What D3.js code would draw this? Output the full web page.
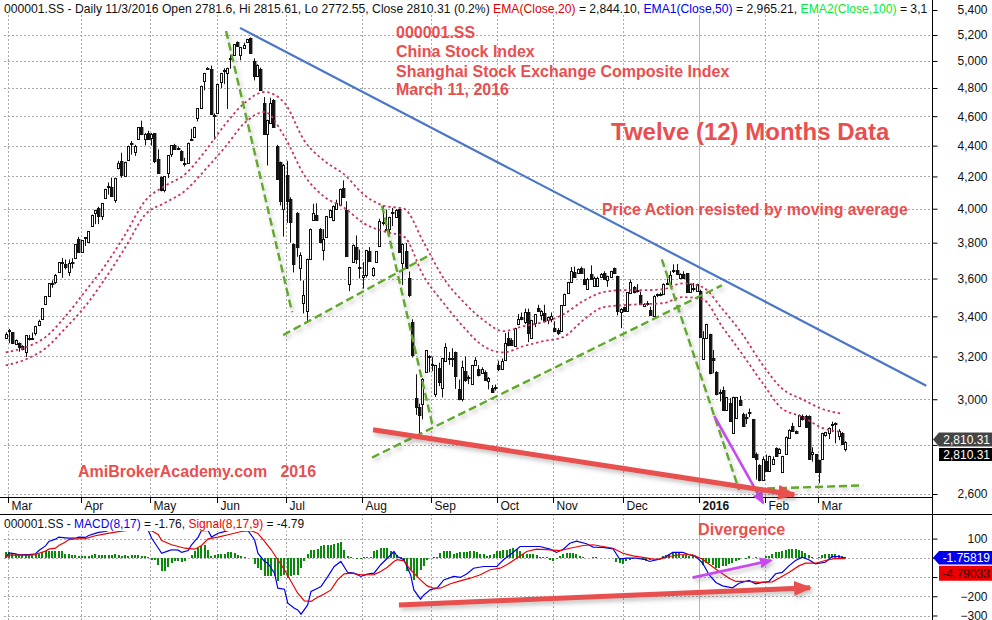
<!DOCTYPE html>
<html><head><meta charset="utf-8">
<style>html,body{margin:0;padding:0;background:#fff}svg{display:block}text{font-family:"Liberation Sans",Arial,sans-serif}</style>
<script src="https://cdn.jsdelivr.net/npm/d3@7"></script></head><body>
<svg id="c" width="992" height="620"></svg>
<script>
// ---------- price data (OHLC, one value per trading day) ----------
const opens=[3293,3330,3319,3263,3265,3252,3223,3288,3290,3314,
3355,3387,3464,3508,3577,3582,3638,3690,3680,3638,
3692,3712,3823,3747,3830,3804,3898,3975,4006,3957,
4066,4137,4132,4052,4252,4298,4200,4305,4415,4357,
4442,4524,4442,4487,4450,4482,4312,4195,4116,4222,
4344,4405,4387,4367,4285,4285,4447,4460,4584,4657,
4848,4945,4941,4607,4625,4843,4932,4910,5020,5048,
5145,5044,5097,5145,5177,4997,4888,4942,4693,4475,
4553,4712,4400,4290,4000,4210,4060,3795,3975,3655,
3470,3428,3708,3930,3965,3880,3757,3830,3953,3935,
3998,4024,4125,3990,3570,3690,3775,3664,3610,3620,
3750,3618,3690,3783,3922,3882,3880,3980,3950,3998,
3685,3755,3605,3372,3005,2967,2978,3125,3204,3157,
3022,3145,3050,3178,3193,3192,3222,3047,3000,3130,
3102,3072,3158,3138,3120,3128,3083,3052,3055,3157,
3140,3185,3290,3283,3253,3360,3397,3372,3420,3292,
3368,3445,3408,3417,3380,3385,3340,3332,3325,3457,
3522,3580,3635,3630,3655,3595,3545,3625,3560,3560,
3610,3630,3593,3610,3655,3612,3425,3447,3430,3520,
3555,3538,3510,3455,3470,3433,3400,3510,3518,3518,
3570,3570,3648,3645,3605,3623,3628,3530,3550,3535,
3535,3190,3290,3310,3193,3128,3035,3043,2953,2985,
2850,2918,2995,2935,2920,2942,2910,2760,2715,2657,
2733,2692,2720,2785,2766,2687,2762,2829,2880,2858,
2882,2926,2925,2925,2762,2760,2735,2740,2844,2850,
2884,2895,2838,2850,2781.6];
const highs=[3319,3336,3319,3283,3268,3255,3304,3306,3318,3352,
3383,3443,3504,3573,3590,3625,3691,3714,3705,3705,
3712,3790,3834,3813,3832,3865,3965,3994,4012,4035,
4122,4162,4192,4192,4300,4353,4295,4400,4431,4405,
4524,4569,4485,4500,4485,4484,4375,4200,4200,4335,
4402,4412,4395,4370,4320,4420,4513,4527,4657,4817,
4911,4953,4965,4620,4832,4911,4945,4950,5048,5130,
5150,5105,5140,5170,5180,5020,4975,4950,4735,4575,
4730,4720,4405,4295,4280,4300,4070,3797,3980,3745,
3590,3710,3882,4030,4033,3885,3878,3957,3996,4020,
4055,4124,4175,4045,3664,3790,3842,3760,3690,3759,
3775,3662,3752,3940,4018,3995,3952,4005,3997,4000,
3797,3798,3638,3385,3115,2980,3097,3232,3206,3197,
3160,3170,3194,3265,3222,3240,3224,3090,3180,3200,
3110,3160,3197,3158,3148,3134,3102,3065,3067,3180,
3190,3315,3320,3290,3342,3412,3420,3440,3440,3382,
3412,3460,3432,3460,3398,3420,3375,3340,3459,3519,
3582,3663,3665,3655,3665,3655,3603,3672,3610,3610,
3630,3640,3615,3642,3660,3615,3442,3450,3527,3595,
3560,3570,3530,3468,3480,3450,3510,3520,3525,3574,
3600,3640,3678,3680,3628,3640,3630,3572,3575,3572,
3540,3325,3362,3312,3232,3130,3045,3058,3010,3005,
3012,3010,3015,2940,2935,2958,2912,2768,2720,2752,
2760,2755,2752,2790,2786,2754,2836,2867,2895,2862,
2932,2932,2930,2928,2790,2762,2738,2852,2856,2875,
2900,2897,2868,2855,2815.61];
const lows=[3293,3265,3262,3258,3223,3230,3198,3278,3284,3303,
3350,3385,3458,3505,3550,3570,3636,3604,3650,3613,
3655,3710,3745,3745,3781,3800,3896,3908,3908,3933,
4060,4086,4075,4036,4245,4191,4198,4303,4341,4332,
4440,4470,4402,4440,4400,4285,4220,4106,4100,4190,
4325,4378,4370,4297,4263,4283,4440,4458,4564,4655,
4783,4935,4612,4440,4615,4800,4828,4650,4942,5040,
5110,5005,5090,5140,5060,4855,4880,4785,4478,4270,
4550,4520,4180,4020,3835,3915,3800,3633,3720,3588,
3415,3375,3706,3928,3930,3800,3700,3828,3951,3925,
3996,4022,4068,3723,3532,3688,3680,3600,3545,3606,
3693,3610,3688,3775,3900,3874,3838,3897,3948,3743,
3565,3656,3500,3195,2930,2845,2910,3123,3125,3130,
3010,3060,3008,3176,3160,3150,3047,2995,2990,3080,
3070,3070,3156,3105,3118,3085,3045,3030,3040,3130,
3135,3183,3250,3253,3250,3355,3380,3360,3270,3290,
3345,3425,3380,3372,3360,3370,3320,3305,3323,3455,
3520,3578,3605,3628,3628,3565,3543,3593,3555,3555,
3605,3595,3555,3608,3628,3405,3340,3425,3428,3518,
3520,3525,3460,3448,3455,3405,3398,3500,3505,3516,
3565,3568,3630,3620,3600,3600,3525,3526,3530,3530,
3290,3188,3288,3115,3120,3018,2990,2950,2950,2900,
2848,2915,2970,2878,2890,2920,2748,2657,2650,2655,
2690,2688,2718,2750,2764,2685,2760,2827,2858,2846,
2880,2905,2876,2738,2730,2685,2643,2738,2835,2825,
2855,2807,2820,2800,2772.55];
const closes=[3311,3333,3265,3280,3248,3237,3304,3290,3292,3350,
3375,3443,3504,3573,3572,3617,3691,3692,3661,3686,
3688,3790,3747,3813,3826,3865,3965,3994,3957,4035,
4122,4133,4080,4192,4285,4207,4292,4400,4411,4396,
4524,4476,4480,4442,4478,4297,4222,4112,4200,4335,
4402,4380,4383,4308,4280,4420,4440,4527,4657,4817,
4911,4938,4615,4602,4832,4911,4928,4950,5013,5130,
5115,5105,5122,5170,5062,4890,4973,4785,4480,4575,
4693,4524,4186,4050,4270,4050,3920,3680,3773,3730,
3510,3708,3880,3977,3932,3803,3822,3955,3994,4018,
4035,4122,4070,3725,3662,3788,3705,3658,3620,3757,
3695,3660,3750,3925,3918,3876,3950,3975,3995,3745,
3795,3658,3510,3208,2963,2930,3095,3230,3200,3166,
3158,3080,3192,3245,3188,3188,3106,3000,3152,3088,
3098,3158,3185,3110,3140,3088,3100,3034,3050,3138,
3180,3265,3255,3255,3340,3388,3385,3420,3318,3380,
3410,3430,3430,3375,3395,3400,3325,3315,3457,3517,
3580,3640,3608,3650,3630,3570,3600,3595,3605,3605,
3625,3600,3613,3640,3630,3426,3440,3430,3525,3580,
3525,3532,3462,3465,3462,3408,3508,3518,3512,3572,
3578,3620,3646,3625,3625,3605,3530,3570,3545,3570,
3295,3290,3360,3120,3185,3022,3028,2953,3008,2905,
3010,3008,2975,2880,2916,2938,2750,2740,2657,2740,
2692,2753,2742,2752,2784,2752,2834,2865,2860,2853,
2930,2913,2878,2740,2770,2687,2687,2850,2855,2873,
2890,2892,2859,2803,2810.31];

// moving averages, read every sixth session
const emaIdx=[0,6,12,18,24,30,36,42,48,54,60,66,72,78,84,90,96,102,108,114,120,126,132,138,144,150,156,162,168,174,180,186,192,198,204,210,216,222,228,234,240,246,252];
const ema50=[3220,3245,3295,3400,3532,3672,3847,4048,4140,4213,4360,4540,4693,4771,4693,4433,4300,4213,4085,4018,4000,3800,3600,3474,3380,3325,3350,3370,3410,3479,3526,3537,3537,3542,3574,3553,3437,3310,3162,3048,3000,2957,2935];
const ema20=[3157,3186,3240,3340,3453,3600,3772,3964,4036,4109,4240,4387,4553,4629,4460,4207,4073,4006,3912,3865,3835,3611,3468,3345,3250,3220,3250,3275,3295,3380,3447,3458,3463,3468,3500,3489,3345,3210,3076,2957,2922,2873,2855];

// MACD panel
const macdIdx=[0,1,3,4,6,7,9,10,12,13,15,16,18,19,21,22,24,25,27,28,30,31,33,36,37,39,43,44,46,47,49,50,52,53,55,56,58,59,61,62,64,65,67,70,73,75,76,78,79,81,82,84,85,87,88,89,91,92,94,95,97,99,101,103,105,107,109,111,113,115,117,118,120,122,123,125,126,128,130,132,135,137,139,141,144,146,148,150,152,155,158,161,164,166,168,170,172,175,177,180,183,185,187,190,193,194,197,199,201,204,206,208,210,212,214,216,219,221,224,226,228,230,232,234,236,238,240,242,244,247,249,251,253];
const macdVal=[3,26,21,16,17,17,21,38,62,85,97,108,104,102,102,108,106,116,127,132,137,142,146,149,155,155,141,102,50,24,36,42,40,28,38,68,108,142,142,108,128,132,141,155,141,94,24,-19,-28,-80,-158,-163,-236,-262,-271,-293,-245,-175,-158,-149,-99,-45,-19,-75,-80,-97,-85,-80,-36,-2,33,7,-10,-88,-167,-215,-193,-165,-158,-115,-97,-102,-83,-54,-45,-45,-45,-10,16,59,59,59,45,28,45,76,87,73,56,54,47,-7,-2,-2,-10,-19,-7,7,28,28,16,7,-28,-89,-128,-146,-156,-132,-118,-135,-128,-123,-83,-76,-42,-14,3,-10,-31,-23,7,7,-1.76];
const signalIdx=[0,1,4,7,9,10,12,13,15,16,18,19,21,24,27,30,33,36,40,43,44,46,47,50,54,57,59,61,64,67,71,74,76,78,80,82,84,86,88,90,92,94,96,98,100,102,104,107,111,113,115,117,118,120,122,125,127,129,131,134,137,140,143,146,149,151,154,157,160,163,167,170,174,177,180,183,186,189,192,195,197,200,203,207,210,212,215,218,220,224,227,231,233,236,239,241,244,247,250,253];
const signalVal=[3,14,14,14,17,24,35,45,50,64,82,95,99,100,115,125,134,141,148,148,141,120,90,68,50,45,64,99,108,120,137,141,127,85,42,-10,-62,-123,-184,-224,-227,-205,-188,-167,-115,-83,-80,-88,-87,-71,-49,-19,-10,-16,-62,-115,-146,-158,-158,-135,-120,-106,-88,-62,-54,-36,-2,33,45,43,38,50,64,68,59,50,24,10,2,-7,-7,7,16,16,-7,-33,-71,-106,-123,-123,-128,-125,-106,-76,-42,-28,-28,-14,-3,-4.79];
const histVal=[30,28,24,21,16,17,14,16,14,17,21,28,35,36,36,38,38,33,21,21,17,16,12,7,10,10,14,21,17,17,17,14,14,21,14,10,14,12,17,14,16,10,7,3,-10,-10,-36,-68,-68,-50,-28,-16,-19,-21,-19,-2,17,35,50,59,68,43,10,16,19,19,19,30,28,24,17,10,3,-3,-3,-31,-54,-62,-97,-97,-97,-97,-123,-97,-88,-106,-97,-88,-88,-54,-16,21,42,42,45,59,68,68,
68,71,76,80,42,10,3,-3,-7,-5,3,3,3,38,42,49,50,52,38,28,14,3,-19,-66,-62,-115,-97,-62,-45,-10,-3,3,3,24,33,36,33,21,26,28,28,31,36,33,28,21,19,10,16,21,35,38,42,42,47,49,45,35,21,21,21,21,16,3,3,3,-10,-16,-7,7,21,26,26,26,21,7,3,1,-1,2,2,-2,-2,-2,-1,-3,-24,-28,-33,-19,-10,-7,-3,-3,-10,-17,-10,-3,-3,-2,
7,14,21,28,28,24,17,14,10,7,3,-3,-36,-28,-28,-36,-54,-54,-45,-42,-31,-28,-17,-10,1,-7,7,-1,3,-1,1,7,10,21,28,28,33,42,47,47,45,42,33,24,14,3,1,3,16,21,21,21,21,17,7,3];

// axes
const priceTicks=[5400,5200,5000,4800,4600,4400,4200,4000,3800,3600,3400,3200,3000,2800,2600];
const macdTicks=[100,0,-100,-200,-300];
const hiddenPriceLabels=[2800];      // covered by the value tags
const hiddenMacdLabels=[0,-100];
const monthLabels=["Mar","Apr","May","Jun","Jul","Aug","Sep","Oct","Nov","Dec","2016","Feb","Mar"];
const monthIdx=[0.7,22.7,43.6,63.7,84.6,107.5,128.2,148,165,186,209,228.8,244.8];

// hand-drawn trend lines, as [session, price]
const blueTrend=[[70.6,5256],[277.4,3062]];
const greenTrends=[
 [[66.4,5232],[86.3,3421]],
 [[83.6,3305],[127,3722]],
 [[113.4,4018],[128.5,2891]],
 [[110.4,2747],[215.8,3563]],
 [[197.7,3706],[221,2616]],
 [[225.8,2620],[258.4,2634]]];
const redPriceArrow=[[110.7,2865],[237.6,2597]];
const purplePriceArrow=[[213.5,2926],[228.2,2565]];
const redMacdArrow=[[118.5,-245],[242.4,-156]];
const purpleMacdArrow=[[207,-103],[230.6,-14]];

const redText="#e94f4f";
const svg=d3.select("#c");
const x=d3.scaleLinear().domain([0,253]).range([5.7,845.3]);
const xBar=d3.scaleLinear().domain([0,opens.length-1]).range([5.7,845.3]);
const y=d3.scaleLog().domain([2600,5400]).range([494,10]);
const yM=d3.scaleLinear().domain([100,-300]).range([538.6,615.5]);
const snap=v=>Math.round(v)+0.5;

// defs
const defs=svg.append("defs");
const f=defs.append("filter").attr("id","sh").attr("filterUnits","userSpaceOnUse").attr("x",0).attr("y",0).attr("width",992).attr("height",620);
f.append("feDropShadow").attr("dx",2).attr("dy",3).attr("stdDeviation",2).attr("flood-color","#555").attr("flood-opacity",0.35);
function marker(id,col,w,h){
  defs.append("marker").attr("id",id).attr("markerUnits","userSpaceOnUse").attr("markerWidth",w).attr("markerHeight",h)
    .attr("refX",w-2).attr("refY",h/2).attr("orient","auto")
    .append("path").attr("d",`M0,0L${w},${h/2}L0,${h}Z`).attr("fill",col);
}
marker("ar","#e8504f",18,15);
marker("ap","#c848f0",13,11);

// grid
const grid=svg.append("g").attr("stroke","#a8a8a8").attr("stroke-dasharray","2,2").attr("stroke-width",1);
grid.selectAll("line.h").data(priceTicks).join("line").attr("x1",4).attr("x2",932).attr("y1",d=>snap(y(d))).attr("y2",d=>snap(y(d)));
grid.selectAll("line.m").data(macdTicks).join("line").attr("class","m").attr("x1",4).attr("x2",932).attr("y1",d=>snap(yM(d))).attr("y2",d=>snap(yM(d)));
monthIdx.forEach((m,i)=>{
  const solid=monthLabels[i]==="2016";
  [[15,497],[514,620]].forEach(r=>{
    svg.append("line").attr("x1",snap(x(m))).attr("x2",snap(x(m))).attr("y1",r[0]).attr("y2",r[1])
      .attr("stroke",solid?"#b8b8b8":"#a8a8a8").attr("stroke-dasharray",solid?null:"2,2").attr("stroke-width",1);
  });
});

// candles
const cand=svg.append("g");
opens.forEach((o,i)=>{
  const c=closes[i],cx=snap(xBar(i)),up=c>=o;
  cand.append("line").attr("x1",cx).attr("x2",cx).attr("y1",y(highs[i])).attr("y2",y(lows[i])).attr("stroke","#111").attr("stroke-width",1);
  const top=Math.round(y(Math.max(o,c))),bot=Math.round(y(Math.min(o,c)));
  cand.append("rect").attr("x",cx-1).attr("width",up?2:2.4).attr("y",top+.5).attr("height",Math.max(bot-top,1))
    .attr("fill",up?"#fff":"#111").attr("stroke","#111").attr("stroke-width",1);
});

// EMAs
const emaLine=d3.line().x((d,i)=>x(emaIdx[i])).y(d=>y(d)).curve(d3.curveMonotoneX);
[ema50,ema20].forEach(s=>svg.append("path").attr("d",emaLine(s)).attr("fill","none").attr("stroke","#c9335f").attr("stroke-width",1.8).attr("stroke-dasharray","2.4,2.8"));

// MACD panel
svg.append("g").attr("shape-rendering","crispEdges").selectAll("line").data(histVal).join("line")
  .attr("x1",(d,i)=>Math.round(x(i))).attr("x2",(d,i)=>Math.round(x(i))).attr("y1",yM(0)).attr("y2",d=>yM(d)).attr("stroke","#0a8a0a").attr("stroke-width",2);
const lm=(idx)=>d3.line().x((d,i)=>x(idx[i])).y(d=>yM(d));
svg.append("path").attr("d",lm(macdIdx)(macdVal)).attr("fill","none").attr("stroke","#0000ee").attr("stroke-width",1.2);
svg.append("path").attr("d",lm(signalIdx)(signalVal)).attr("fill","none").attr("stroke","#ee0000").attr("stroke-width",1.2);

// panel frames
svg.append("rect").attr("x",0).attr("y",515).attr("width",312).attr("height",16).attr("fill","#fff");
svg.append("rect").attr("x",0).attr("y",0).attr("width",931).attr("height",15).attr("fill","#fff");
svg.append("line").attr("x1",0).attr("x2",932).attr("y1",497.5).attr("y2",497.5).attr("stroke","#000").attr("stroke-width",1);
svg.append("line").attr("x1",0).attr("x2",992).attr("y1",514.5).attr("y2",514.5).attr("stroke","#000").attr("stroke-width",1);
svg.append("line").attr("x1",932.5).attr("x2",932.5).attr("y1",0).attr("y2",620).attr("stroke","#000").attr("stroke-width",1);

// month axis
const mg=svg.append("g").selectAll("g").data(monthIdx).join("g").attr("transform",d=>`translate(${snap(x(d))},0)`);
mg.append("line").attr("y1",497).attr("y2",503).attr("stroke","#000");
mg.append("text").attr("x",3).attr("y",510).attr("font-size",12).attr("fill","#111")
  .attr("font-weight",(d,i)=>monthLabels[i]==="2016"?"bold":"normal").text((d,i)=>monthLabels[i]);

// price axis
const pa=svg.append("g").attr("transform","translate(932.5,0)")
  .call(d3.axisRight(y).tickValues(priceTicks).tickFormat(d3.format(",")).tickSize(5).tickPadding(20));
pa.select(".domain").remove();
pa.selectAll("text").attr("font-size",12).attr("font-family","Liberation Sans").attr("fill","#111");
pa.selectAll("line").attr("stroke","#000");
pa.selectAll(".tick").filter(d=>hiddenPriceLabels.includes(d)).select("text").remove();
const ma=svg.append("g").attr("transform","translate(932.5,0)")
  .call(d3.axisRight(yM).tickValues(macdTicks).tickSize(5).tickPadding(20));
ma.select(".domain").remove();
ma.selectAll("text").attr("font-size",12).attr("font-family","Liberation Sans").attr("fill","#111").attr("text-anchor","end").attr("x",55);
ma.selectAll("line").attr("stroke","#000");
ma.selectAll(".tick").filter(d=>hiddenMacdLabels.includes(d)).select("text").remove();

// trend lines and arrows
const pt=p=>[x(p[0]),y(p[1])], ptM=p=>[x(p[0]),yM(p[1])];
const dl=d3.line();
svg.append("path").attr("d",dl(blueTrend.map(pt))).attr("stroke","#4a76c8").attr("stroke-width",2.2).attr("fill","none");
greenTrends.forEach(t=>svg.append("path").attr("d",dl(t.map(pt))).attr("stroke","#62a82a").attr("stroke-width",2.4).attr("stroke-dasharray","8,4").attr("fill","none").attr("filter","url(#sh)"));
svg.append("path").attr("d",dl(purplePriceArrow.map(pt))).attr("stroke","#c848f0").attr("stroke-width",2.6).attr("fill","none").attr("marker-end","url(#ap)");
svg.append("path").attr("d",dl(redPriceArrow.map(pt))).attr("stroke","#e8504f").attr("stroke-width",5).attr("fill","none").attr("marker-end","url(#ar)").attr("filter","url(#sh)");
svg.append("path").attr("d",dl(purpleMacdArrow.map(ptM))).attr("stroke","#c848f0").attr("stroke-width",2.6).attr("fill","none").attr("marker-end","url(#ap)").attr("filter","url(#sh)");
svg.append("path").attr("d",dl(redMacdArrow.map(ptM))).attr("stroke","#e8504f").attr("stroke-width",5).attr("fill","none").attr("marker-end","url(#ar)").attr("filter","url(#sh)");

// header text
function rich(xp,yp,fs,parts){
  const t=svg.append("text").attr("x",xp).attr("y",yp).attr("font-size",fs).style("white-space","pre");
  parts.forEach(p=>t.append("tspan").attr("fill",p[1]||"#111").text(p[0]));
}
rich(4,13,12.16,[["000001.SS - Daily 11/3/2016 Open 2781.6, Hi 2815.61, Lo 2772.55, Close 2810.31 (0.2%) "],["EMA(Close,20)","#e00000"],[" = 2,844.10, "],["EMA1(Close,50)","#0000ee"],[" = 2,965.21, "],["EMA2(Close,100)","#00ee33"],[" = 3,1"]]);
rich(4,528,12,[["000001.SS - "],["MACD(8,17)","#0000ee"],[" = -1.76, "],["Signal(8,17,9)","#ee0000"],[" = -4.79"]]);

// annotations
const notes=[["000001.SS",396,38,16],["China Stock Index",396,57,16],["Shanghai Stock Exchange Composite Index",396,77,16],["March 11, 2016",396,95,16],
 ["Twelve (12) Months Data",611,140,24],["Price Action resisted by moving average",602,215,15.9],["AmiBrokerAcademy.com   2016",78,477,16],["Divergence",698,535,16.2]];
svg.append("g").selectAll("text").data(notes).join("text").attr("x",d=>d[1]).attr("y",d=>d[2]).attr("font-size",d=>d[3]).attr("font-weight","bold").attr("fill",redText).style("white-space","pre").text(d=>d[0]);

// value tags
const lastClose=closes[closes.length-1], lastMacd=macdVal[macdVal.length-1], lastSignal=signalVal[signalVal.length-1];
function tag(yc,fill,fg,label,arrow,h){
  const t=yc-h/2,b=yc+h/2;
  svg.append("path").attr("d",arrow?`M933,${yc}L939,${t}L992,${t}L992,${b}L939,${b}Z`:`M939,${t}L992,${t}L992,${b}L939,${b}Z`).attr("fill",fill);
  svg.append("text").attr("x",990).attr("y",yc+4.5).attr("text-anchor","end").attr("font-size",12).attr("fill",fg).text(label);
}
tag(y(lastClose)-3,"#444","#fff",d3.format(",.2f")(lastClose),true,14);
tag(y(lastClose)+12,"#000","#fff",d3.format(",.2f")(lastClose),false,13);
tag(yM(lastMacd)-0.5,"#0000ee","#fff","-1.75819",true,13.5);
tag(yM(lastSignal)+14.5,"#ee0000","#300","-4.79033",false,15);
</script></body></html>
